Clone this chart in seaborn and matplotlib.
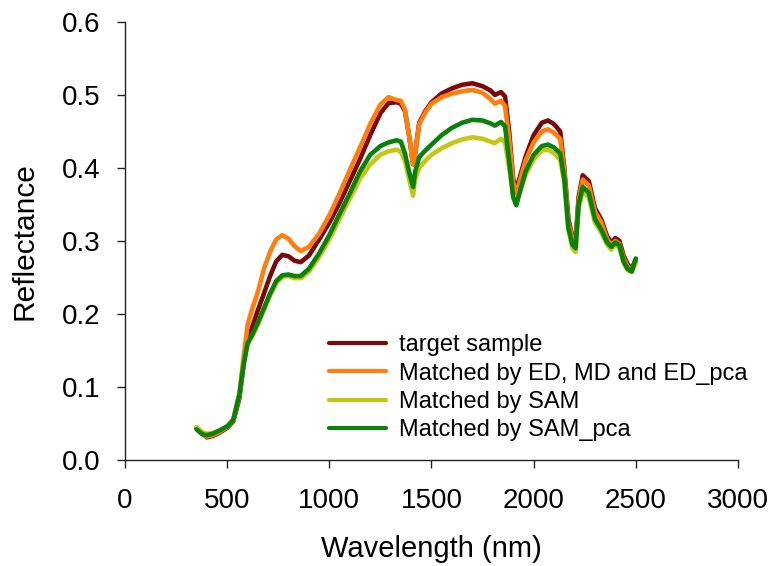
import numpy as np
import pandas as pd
import matplotlib
matplotlib.use("Agg")
import matplotlib.pyplot as plt
import seaborn as sns

wavelength = [350, 380, 400, 430, 460, 500, 530, 560, 580, 600, 620, 650, 680, 710, 740, 770, 800, 830, 860, 900,
              950, 1000, 1050, 1100, 1150, 1200, 1250, 1290, 1330, 1350, 1370, 1390, 1410, 1420, 1440, 1470, 1500,
              1550, 1600, 1650, 1700, 1750, 1790, 1810, 1840, 1860, 1880, 1900, 1915, 1930, 1960, 2000, 2040, 2070,
              2100, 2130, 2150, 2170, 2190, 2205, 2220, 2240, 2270, 2300, 2330, 2360, 2380, 2400, 2420, 2440, 2460,
              2480, 2500]

target_sample = [0.044, 0.036, 0.031, 0.033, 0.037, 0.044, 0.053, 0.085, 0.130, 0.168, 0.180, 0.205, 0.228, 0.252,
                 0.272, 0.281, 0.279, 0.273, 0.271, 0.280, 0.302, 0.325, 0.352, 0.382, 0.412, 0.445, 0.475, 0.489,
                 0.490, 0.488, 0.478, 0.445, 0.405, 0.420, 0.462, 0.478, 0.490, 0.502, 0.509, 0.514, 0.516, 0.512,
                 0.506, 0.500, 0.504, 0.498, 0.450, 0.385, 0.370, 0.385, 0.415, 0.445, 0.462, 0.465, 0.460, 0.450,
                 0.400, 0.330, 0.305, 0.300, 0.360, 0.390, 0.382, 0.345, 0.330, 0.306, 0.298, 0.304, 0.300, 0.280,
                 0.268, 0.262, 0.275]

matched_ed_md = [0.043, 0.035, 0.032, 0.034, 0.038, 0.045, 0.055, 0.090, 0.140, 0.185, 0.205, 0.230, 0.262, 0.285,
                 0.302, 0.308, 0.303, 0.293, 0.286, 0.292, 0.310, 0.335, 0.365, 0.397, 0.428, 0.460, 0.487, 0.497,
                 0.493, 0.492, 0.480, 0.445, 0.405, 0.420, 0.460, 0.476, 0.488, 0.497, 0.502, 0.505, 0.507, 0.503,
                 0.494, 0.488, 0.492, 0.485, 0.440, 0.380, 0.365, 0.380, 0.410, 0.435, 0.450, 0.453, 0.448, 0.440,
                 0.395, 0.325, 0.302, 0.295, 0.355, 0.384, 0.376, 0.340, 0.326, 0.302, 0.295, 0.300, 0.296, 0.276,
                 0.265, 0.260, 0.273]

matched_sam = [0.045, 0.038, 0.036, 0.037, 0.040, 0.046, 0.055, 0.090, 0.130, 0.158, 0.168, 0.185, 0.205, 0.225,
               0.242, 0.251, 0.252, 0.249, 0.249, 0.258, 0.278, 0.302, 0.330, 0.358, 0.385, 0.405, 0.418, 0.423,
               0.425, 0.422, 0.410, 0.385, 0.362, 0.385, 0.400, 0.410, 0.418, 0.427, 0.434, 0.439, 0.442, 0.440,
               0.436, 0.434, 0.440, 0.435, 0.400, 0.360, 0.350, 0.365, 0.390, 0.412, 0.424, 0.425, 0.420, 0.412,
               0.380, 0.315, 0.290, 0.285, 0.345, 0.368, 0.360, 0.325, 0.312, 0.295, 0.288, 0.296, 0.290, 0.270,
               0.260, 0.258, 0.270]

matched_sam_pca = [0.042, 0.035, 0.034, 0.036, 0.040, 0.046, 0.055, 0.090, 0.130, 0.160, 0.170, 0.188, 0.208, 0.228,
                   0.245, 0.253, 0.254, 0.252, 0.252, 0.262, 0.283, 0.308, 0.337, 0.365, 0.395, 0.418, 0.430, 0.435,
                   0.438, 0.436, 0.420, 0.395, 0.374, 0.395, 0.415, 0.424, 0.432, 0.445, 0.455, 0.462, 0.466, 0.465,
                   0.461, 0.458, 0.463, 0.457, 0.410, 0.360, 0.349, 0.365, 0.395, 0.418, 0.430, 0.432, 0.428, 0.420,
                   0.385, 0.318, 0.295, 0.290, 0.350, 0.374, 0.366, 0.330, 0.316, 0.298, 0.292, 0.298, 0.294, 0.272,
                   0.262, 0.258, 0.276]

series_names = ["target sample", "Matched by ED, MD and ED_pca", "Matched by SAM", "Matched by SAM_pca"]
series_colors = ["#7a0a0a", "#ff7f0e", "#c6c615", "#0a820a"]

x_ticks = [0, 500, 1000, 1500, 2000, 2500, 3000]
y_ticks = [0.0, 0.1, 0.2, 0.3, 0.4, 0.5, 0.6]

frames = []
for name, vals in zip(series_names, [target_sample, matched_ed_md, matched_sam, matched_sam_pca]):
    frames.append(pd.DataFrame({"Wavelength": wavelength, "Reflectance": vals, "Series": name}))
df = pd.concat(frames, ignore_index=True)

sns.set_style("ticks")
plt.rcParams["font.family"] = ["Liberation Sans", "DejaVu Sans"]
plt.rcParams["text.color"] = "black"
plt.rcParams["axes.labelcolor"] = "black"

fig = plt.figure(figsize=(7.73, 5.66), dpi=100)
ax = fig.add_axes([0.1617, 0.1873, 0.793, 0.7739])

sns.lineplot(data=df, x="Wavelength", y="Reflectance", hue="Series", hue_order=series_names,
             palette=series_colors, linewidth=3.3, ax=ax, sort=False)

ax.set_xlim(0, 3000)
ax.set_ylim(0, 0.6)
ax.set_xticks(x_ticks)
ax.set_yticks(y_ticks)
ax.set_xticklabels([str(t) for t in x_ticks])
ax.set_yticklabels([f"{t:.1f}" for t in y_ticks])
ax.tick_params(axis="both", labelsize=20, direction="out", length=5.5, width=1, colors="#222222",
               labelcolor="black")
ax.tick_params(axis="x", pad=15)
ax.tick_params(axis="y", pad=12)
ax.set_xlabel("Wavelength (nm)", fontsize=21, labelpad=15)
ax.set_ylabel("Reflectance", fontsize=21.5, labelpad=17)
for s in ["top", "right"]:
    ax.spines[s].set_visible(False)
for s in ["left", "bottom"]:
    ax.spines[s].set_color("#222222")
    ax.spines[s].set_linewidth(1)

leg = ax.legend(loc="upper left", bbox_to_anchor=(0.333, 0.287), frameon=False, fontsize=17,
                handlelength=2.4, handletextpad=0.55, labelspacing=0.27, borderaxespad=0, borderpad=0)
for line in leg.get_lines():
    line.set_linewidth(3)

fig.savefig("out.png", dpi=100)
